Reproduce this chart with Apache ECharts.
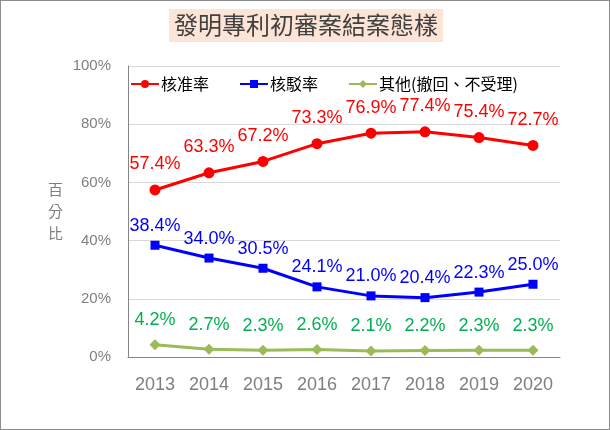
<!DOCTYPE html>
<html>
<head>
<meta charset="utf-8">
<script src="https://cdn.jsdelivr.net/npm/echarts@6/dist/echarts.min.js"></script>
<style>
html,body{margin:0;padding:0;background:#fff;}
#chart{width:608px;height:428px;border:1px solid #8c8c8c;}
</style>
</head>
<body>
<div id="chart"></div>
<script>
var years=['2013','2014','2015','2016','2017','2018','2019','2020'];
var approveRate=[57.4,63.3,67.2,73.3,76.9,77.4,75.4,72.7];
var rejectRate=[38.4,34.0,30.5,24.1,21.0,20.4,22.3,25.0];
var otherRate=[4.2,2.7,2.3,2.6,2.1,2.2,2.3,2.3];
var yTicks=[0,20,40,60,80,100];

var fontFamily='"Liberation Sans", Arial, "Noto Sans CJK TC", sans-serif';
var chart=echarts.init(document.getElementById('chart'));

function labelOf(color,dist){
    return {
        show:true,
        position:'top',
        distance:dist,
        color:color,
        fontSize:18,
        fontFamily:fontFamily,
        formatter:function(p){return p.value.toFixed(1)+'%';}
    };
}

var option={
    animation:false,
    title:{
        text:'發明專利初審案結案態樣',
        left:168,
        top:8,
        padding:[4,5,5,5],
        backgroundColor:'#fce4d6',
        textStyle:{
            fontSize:24,
            fontWeight:'normal',
            color:'#404040',
            fontFamily:'"Noto Sans CJK TC", sans-serif'
        }
    },
    legend:{
        left:124,
        top:70,
        itemWidth:28,
        itemHeight:10,
        itemGap:30,
        textStyle:{fontSize:16,color:'#000',fontFamily:'"Noto Sans CJK TC", sans-serif',padding:[0,0,0,-3]},
        data:['核准率','核駁率','其他(撤回、不受理)']
    },
    grid:{left:127,right:49,top:65,bottom:72},
    xAxis:{
        type:'category',
        data:years,
        axisLine:{lineStyle:{color:'#868686'}},
        axisTick:{show:false},
        axisLabel:{fontSize:18,color:'#7f7f7f',margin:19,fontFamily:fontFamily}
    },
    yAxis:{
        type:'value',
        min:yTicks[0],
        max:yTicks[yTicks.length-1],
        interval:20,
        name:'百\n分\n比',
        nameLocation:'middle',
        nameRotate:0,
        nameGap:65,
        nameTextStyle:{fontSize:15,color:'#7f7f7f',lineHeight:22,fontFamily:'"Noto Sans CJK TC", sans-serif'},
        axisLine:{show:true,lineStyle:{color:'#868686'}},
        axisTick:{show:false},
        splitLine:{lineStyle:{color:'#d9d9d9'}},
        axisLabel:{fontSize:15,color:'#7f7f7f',margin:17,fontFamily:fontFamily,formatter:'{value}%'}
    },
    series:[
        {
            name:'核准率',
            type:'line',
            data:approveRate,
            symbol:'circle',
            symbolSize:11,
            lineStyle:{color:'#ff0000',width:3},
            itemStyle:{color:'#ff0000'},
            label:labelOf('#ff0000',11)
        },
        {
            name:'核駁率',
            type:'line',
            data:rejectRate,
            symbol:'rect',
            symbolSize:9,
            lineStyle:{color:'#0000ff',width:3},
            itemStyle:{color:'#0000ff'},
            label:labelOf('#0000ff',6)
        },
        {
            name:'其他(撤回、不受理)',
            type:'line',
            data:otherRate,
            symbol:'diamond',
            symbolSize:11,
            lineStyle:{color:'#9bbb59',width:3},
            itemStyle:{color:'#9bbb59'},
            label:labelOf('#00b050',10)
        }
    ]
};
chart.setOption(option);
</script>
</body>
</html>
